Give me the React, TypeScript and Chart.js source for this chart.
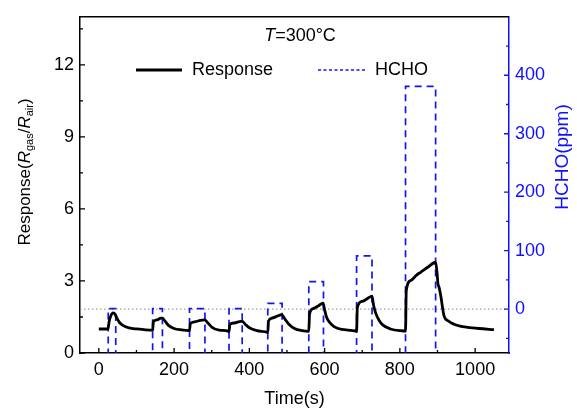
import React, { useEffect, useRef } from "react";
import { Chart, registerables } from "chart.js";
Chart.register(...registerables);

const FONT = "'Liberation Sans', Arial, Helvetica, sans-serif";
const BLUE = "#1414f0";
const AXIS_BLUE = "#1010ff";

// Response curve (time in s, Rgas/Rair)
const timeS = [
  0, 24, 25, 28, 32, 38, 43, 48, 55, 65, 80, 100, 120, 142,
  143, 145, 155, 165, 169, 175, 185, 200, 220, 240,
  241, 243, 255, 270, 281, 290, 300, 320, 345,
  346, 348, 360, 378, 381, 390, 400, 420, 448,
  449, 451, 460, 475, 486, 495, 505, 520, 540, 557,
  558, 560, 570, 585, 596, 600, 605, 612, 625, 645, 684,
  685, 687, 700, 715, 726, 730, 736, 745, 755, 775, 800, 814,
  815, 817, 829, 845, 856, 875, 895, 899, 901, 904, 909, 917, 930, 944, 960, 980, 1010, 1050,
];
const response = [
  1.0, 1.0, 1.05, 1.35, 1.55, 1.67, 1.62, 1.45, 1.27, 1.14, 1.05, 1.0, 0.97, 0.95,
  0.96, 1.3, 1.38, 1.45, 1.45, 1.35, 1.15, 1.02, 0.96, 0.93,
  0.93, 1.22, 1.3, 1.36, 1.38, 1.25, 1.08, 0.95, 0.9,
  0.88, 1.18, 1.25, 1.32, 1.32, 1.18, 1.05, 0.93, 0.86,
  0.85, 1.33, 1.45, 1.54, 1.6, 1.4, 1.2, 1.02, 0.93, 0.9,
  0.9, 1.62, 1.85, 1.98, 2.08, 1.8, 1.5, 1.3, 1.1, 0.98, 0.91,
  0.9, 1.9, 2.15, 2.28, 2.37, 2.0, 1.65, 1.35, 1.16, 1.0, 0.93, 0.91,
  0.9, 2.6, 3.02, 3.25, 3.37, 3.58, 3.78, 3.3, 2.9, 2.75, 2.35, 1.57, 1.32, 1.2, 1.12, 1.07, 1.02, 0.97,
];

// HCHO pulses
const pulseStart = [25, 143, 241, 346, 449, 558, 685, 815];
const pulseEnd = [45, 169, 282, 381, 487, 597, 726, 895];
const hchoPpm = [1, 1, 1, 1, 10, 47, 91, 381];
const hchoOff = -100;

// Axes
const xRange = [-50, 1090];
const yRange = [0, 14];
const y2Range = [-75, 500];
const xTicks = [0, 200, 400, 600, 800, 1000];
const xMinor = [100, 300, 500, 700, 900];
const yTicks = [0, 3, 6, 9, 12];
const yMinor = [1.5, 4.5, 7.5, 10.5, 13.5];
const y2Ticks = [0, 100, 200, 300, 400];
const y2Minor = [-50, 50, 150, 250, 350, 450];

function font(size: number, italic = false) {
  return `${italic ? "italic " : ""}${size}px ${FONT}`;
}

type Seg = { t: string; size: number; italic?: boolean; dy?: number };

function drawRich(ctx: CanvasRenderingContext2D, segs: Seg[], cx: number, cy: number, rot: number, color: string) {
  ctx.save();
  ctx.translate(cx, cy);
  ctx.rotate(rot);
  ctx.fillStyle = color;
  ctx.textBaseline = "middle";
  ctx.textAlign = "left";
  let total = 0;
  const widths = segs.map((s) => {
    ctx.font = font(s.size, s.italic);
    const w = ctx.measureText(s.t).width;
    total += w;
    return w;
  });
  let x = -total / 2;
  segs.forEach((s, i) => {
    ctx.font = font(s.size, s.italic);
    ctx.fillText(s.t, x, s.dy || 0);
    x += widths[i];
  });
  ctx.restore();
}

const decor = {
  id: "decor",
  afterDraw(chart: any) {
    const ctx: CanvasRenderingContext2D = chart.ctx;
    const { left, right, top, bottom } = chart.chartArea;
    const sx = chart.scales.x;
    const sy = chart.scales.y;
    const sy2 = chart.scales.y2;
    ctx.save();
    // top border
    ctx.strokeStyle = "#000";
    ctx.lineWidth = 1.5;
    ctx.beginPath();
    ctx.moveTo(left, top);
    ctx.lineTo(right, top);
    ctx.stroke();
    // inward ticks
    const tick = (color: string, fn: () => void) => {
      ctx.strokeStyle = color;
      ctx.lineWidth = 1.3;
      ctx.beginPath();
      fn();
      ctx.stroke();
    };
    tick("#000", () => {
      xTicks.forEach((v) => { const p = sx.getPixelForValue(v); ctx.moveTo(p, bottom); ctx.lineTo(p, bottom - 5); });
      xMinor.forEach((v) => { const p = sx.getPixelForValue(v); ctx.moveTo(p, bottom); ctx.lineTo(p, bottom - 3); });
      yTicks.forEach((v) => { const p = sy.getPixelForValue(v); ctx.moveTo(left, p); ctx.lineTo(left + 5, p); });
      yMinor.forEach((v) => { const p = sy.getPixelForValue(v); ctx.moveTo(left, p); ctx.lineTo(left + 3, p); });
    });
    tick(AXIS_BLUE, () => {
      y2Ticks.forEach((v) => { const p = sy2.getPixelForValue(v); ctx.moveTo(right, p); ctx.lineTo(right - 5, p); });
      y2Minor.forEach((v) => { const p = sy2.getPixelForValue(v); ctx.moveTo(right, p); ctx.lineTo(right - 3, p); });
    });

    // axis titles
    drawRich(ctx, [
      { t: "Response(", size: 17 },
      { t: "R", size: 17, italic: true },
      { t: "gas", size: 11, dy: 5 },
      { t: "/", size: 17 },
      { t: "R", size: 17, italic: true },
      { t: "air", size: 11, dy: 5 },
      { t: ")", size: 17 },
    ], 25, 172, -Math.PI / 2, "#000");
    drawRich(ctx, [{ t: "HCHO(ppm)", size: 19 }], 563, 157, -Math.PI / 2, AXIS_BLUE);
    drawRich(ctx, [{ t: "Time(s)", size: 18 }], (left + right) / 2, 399, 0, "#000");

    // annotation
    drawRich(ctx, [
      { t: "T", size: 18, italic: true },
      { t: "=300°C", size: 18 },
    ], 300, 36, 0, "#000");

    // legend
    const ds = chart.data.datasets;
    const legendY = 70;
    ctx.lineWidth = ds[0].borderWidth;
    ctx.strokeStyle = ds[0].borderColor;
    ctx.setLineDash([]);
    ctx.beginPath();
    ctx.moveTo(136, legendY);
    ctx.lineTo(182, legendY);
    ctx.stroke();
    ctx.fillStyle = "#000";
    ctx.font = font(18);
    ctx.textBaseline = "middle";
    ctx.textAlign = "left";
    ctx.fillText(ds[0].label, 192, legendY);
    ctx.lineWidth = 1.3;
    ctx.strokeStyle = ds[1].borderColor;
    ctx.setLineDash([3, 2.5]);
    ctx.beginPath();
    ctx.moveTo(318, legendY);
    ctx.lineTo(365, legendY);
    ctx.stroke();
    ctx.setLineDash([]);
    ctx.fillText(ds[1].label, 375, legendY);
    ctx.restore();
  },
};

export default function App() {
  const ref = useRef<HTMLCanvasElement | null>(null);
  useEffect(() => {
    document.body.style.margin = "0";
    const canvas = ref.current;
    if (!canvas) return;
    const respData = timeS.map((t, i) => ({ x: t, y: response[i] }));
    const hchoData: { x: number; y: number }[] = [];
    pulseStart.forEach((s, i) => {
      hchoData.push({ x: s, y: hchoOff });
      hchoData.push({ x: s, y: hchoPpm[i] });
      hchoData.push({ x: pulseEnd[i], y: hchoPpm[i] });
      hchoData.push({ x: pulseEnd[i], y: hchoOff });
    });
    const zeroData = [{ x: xRange[0], y: 0 }, { x: xRange[1], y: 0 }];
    const setTicks = (vals: number[]) => (scale: any) => {
      scale.ticks = vals.map((v) => ({ value: v }));
    };
    const plain = (v: any) => String(v);
    const chart = new Chart(canvas, {
      type: "line",
      data: {
        datasets: [
          {
            label: "Response",
            data: respData,
            yAxisID: "y",
            borderColor: "#000",
            borderWidth: 2.8,
            pointRadius: 0,
            cubicInterpolationMode: "monotone",
          },
          {
            label: "HCHO",
            data: hchoData,
            yAxisID: "y2",
            borderColor: BLUE,
            borderWidth: 1.7,
            borderDash: [7, 5],
            pointRadius: 0,
          },
          {
            label: "zero",
            data: zeroData,
            yAxisID: "y2",
            borderColor: "#8a8a8a",
            borderWidth: 1,
            borderDash: [1.5, 2.5],
            pointRadius: 0,
          },
        ],
      },
      options: {
        animation: false,
        responsive: false,
        devicePixelRatio: 1,
        layout: { padding: { top: 14, left: 0, right: 0, bottom: 0 } },
        plugins: { legend: { display: false }, tooltip: { enabled: false } },
        scales: {
          x: {
            type: "linear",
            min: xRange[0],
            max: xRange[1],
            afterBuildTicks: setTicks(xTicks),
            afterFit: (s: any) => { s.height = 58; },
            grid: { display: false, drawTicks: false },
            border: { display: true, color: "#000", width: 1.5 },
            ticks: { color: "#000", font: { family: FONT, size: 18 }, padding: 6, maxRotation: 0, callback: plain },
          },
          y: {
            type: "linear",
            position: "left",
            min: yRange[0],
            max: yRange[1],
            afterBuildTicks: setTicks(yTicks),
            afterFit: (s: any) => { s.width = 80; },
            grid: { display: false, drawTicks: false },
            border: { display: true, color: "#000", width: 1.5 },
            ticks: { color: "#000", font: { family: FONT, size: 18 }, padding: 6, callback: plain },
          },
          y2: {
            type: "linear",
            position: "right",
            min: y2Range[0],
            max: y2Range[1],
            afterBuildTicks: setTicks(y2Ticks),
            afterFit: (s: any) => { s.width = 68; },
            grid: { display: false, drawTicks: false },
            border: { display: true, color: AXIS_BLUE, width: 1.5 },
            ticks: { color: AXIS_BLUE, font: { family: FONT, size: 18 }, padding: 6, callback: plain },
          },
        },
      },
      plugins: [decor],
    } as any);
    return () => chart.destroy();
  }, []);
  return (
    <div style={{ position: "absolute", left: 0, top: 0, width: 577, height: 411 }}>
      <canvas ref={ref} width={577} height={411} style={{ display: "block", width: 577, height: 411 }} />
    </div>
  );
}
